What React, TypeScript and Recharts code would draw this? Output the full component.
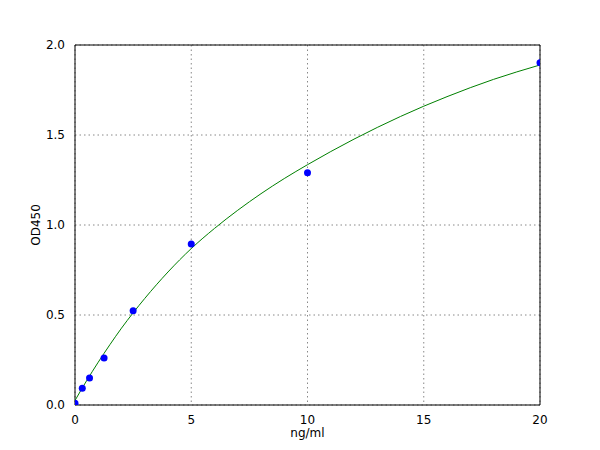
import {
  ComposedChart,
  Line,
  Scatter,
  XAxis,
  YAxis,
  CartesianGrid,
  ReferenceArea,
  Label,
} from "recharts";

// measured standards (ng/ml vs OD450)
const concentrations = [0, 0.3125, 0.625, 1.25, 2.5, 5, 10, 20];
const odValues = [0.01, 0.093, 0.15, 0.261, 0.524, 0.894, 1.29, 1.902];

// fitted curve
const curveX = [0, 0.5, 1, 1.5, 2, 2.5, 3, 4, 5, 6, 7, 8, 9, 10, 12, 14, 15, 16, 18, 20];
const curveY = [0.025, 0.135, 0.238, 0.335, 0.427, 0.512, 0.592, 0.739, 0.869, 0.981, 1.082, 1.174, 1.258, 1.335, 1.477, 1.603, 1.66, 1.713, 1.809, 1.889];

const xTicks = [0, 5, 10, 15, 20];
const yTicks = [0, 0.5, 1, 1.5, 2];

const FONT = "'DejaVu Sans', sans-serif";

export default function App() {
  const points = concentrations.map((x, i) => ({ x, y: odValues[i] }));
  const curve = curveX.map((x, i) => ({ x, y: curveY[i] }));

  return (
    <div style={{ position: "absolute", left: 0, top: 0, width: 600, height: 450, background: "#fff", fontFamily: FONT }}>
      <ComposedChart
        width={600}
        height={450}
        margin={{ top: 45, right: 60, bottom: 0, left: 0 }}
      >
        <CartesianGrid
          stroke="#888"
          strokeDasharray="1.5 3"
          horizontalValues={yTicks}
          verticalValues={xTicks}
        />
        <XAxis
          type="number"
          dataKey="x"
          domain={[0, 20]}
          ticks={xTicks}
          allowDataOverflow
          height={45}
          tickLine={false}
          axisLine={false}
          tickMargin={4}
          tick={{ fill: "#000", fontSize: 12, fontFamily: FONT }}
        >
          <Label value="ng/ml" position="insideBottom" offset={13} fill="#000" fontSize={12} fontFamily={FONT} />
        </XAxis>
        <YAxis
          type="number"
          dataKey="y"
          domain={[0, 2]}
          ticks={yTicks}
          allowDataOverflow
          width={75}
          tickLine={false}
          axisLine={false}
          tickMargin={4}
          tickFormatter={(v: number) => v.toFixed(1)}
          tick={{ fill: "#000", fontSize: 12, fontFamily: FONT }}
        >
          <Label value="OD450" angle={-90} position="insideLeft" offset={36} fill="#000" fontSize={12} fontFamily={FONT} style={{ textAnchor: "middle" }} />
        </YAxis>
        <Line
          data={curve}
          dataKey="y"
          type="monotone"
          stroke="#008000"
          strokeWidth={1}
          dot={false}
          activeDot={false}
          isAnimationActive={false}
        />
        <Scatter
          data={points}
          dataKey="y"
          fill="#0000ff"
          shape={(p: any) => <circle cx={p.cx} cy={p.cy} r={3.5} fill="#0000ff" />}
          isAnimationActive={false}
        />
        <ReferenceArea x1={0} x2={20} y1={0} y2={2} fill="none" stroke="#000" strokeWidth={1} />
      </ComposedChart>
    </div>
  );
}
